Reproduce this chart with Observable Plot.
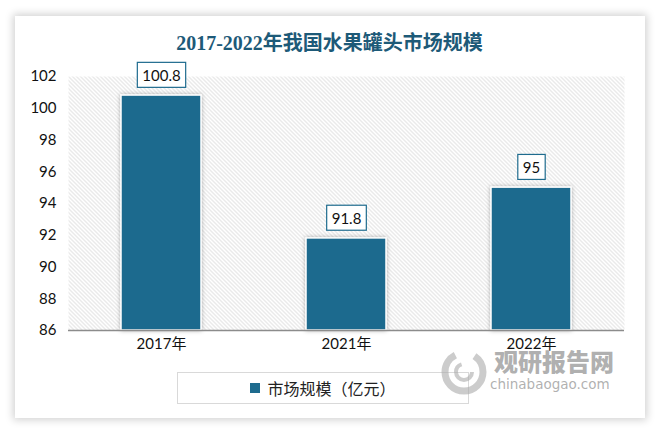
<!DOCTYPE html>
<html><head><meta charset="utf-8">
<script src="https://cdn.jsdelivr.net/npm/d3@7"></script>
<script src="https://cdn.jsdelivr.net/npm/@observablehq/plot@0.6"></script>
<style>
html,body{margin:0;padding:0;background:#fff;}
#wrap{position:relative;width:659px;height:432px;overflow:hidden;background:#fff;}
#card{position:absolute;left:15px;top:16px;width:630px;height:402px;background:#fff;box-shadow:0 0 8px 2px rgba(0,0,0,0.18);}
#title{position:absolute;left:0;top:27px;width:659px;text-align:center;font-family:"Liberation Serif","Noto Sans CJK SC",serif;font-size:20px;font-weight:bold;color:#1d5a78;}
#chart{position:absolute;left:0;top:56px;}
#legend{position:absolute;left:177px;top:372px;width:290px;height:30px;border:1px solid #d9d9d9;background:#fff;font-family:"Noto Sans CJK SC",sans-serif;font-size:16px;color:#222;display:flex;align-items:center;justify-content:center;}
#legend .sw{display:inline-block;width:10px;height:10px;background:#1e6b8e;margin-right:7px;}
#wm1{position:absolute;left:494px;top:343px;font-family:"Noto Sans CJK SC",sans-serif;font-weight:900;font-size:24px;color:rgba(150,150,150,0.75);}
#wm2{position:absolute;left:490px;top:376px;font-family:"DejaVu Sans",sans-serif;font-size:13.5px;color:rgba(150,150,150,0.75);}
#wmlogo{position:absolute;left:440px;top:348px;}
</style></head>
<body>
<div id="wrap">
  <div id="card"></div>
  <div id="title">2017-2022年我国水果罐头市场规模</div>
  <div id="chart"></div>
  <div id="legend"><span class="sw"></span><span id="legtext"></span></div>
  <svg id="wmlogo" width="50" height="50"><circle cx="24" cy="24" r="19" fill="none" stroke="rgba(170,170,170,0.6)" stroke-width="7" stroke-dasharray="80 20"/><circle cx="24" cy="24" r="8" fill="none" stroke="rgba(170,170,170,0.6)" stroke-width="4" stroke-dasharray="35 15"/></svg>
  <div id="wm1">观研报告网</div>
  <div id="wm2">chinabaogao.com</div>
</div>
<script>
const years = ["2017年", "2021年", "2022年"];
const values = [100.8, 91.8, 95];
const labels = ["100.8", "91.8", "95"];
const seriesName = "市场规模（亿元）";
const yTicks = [86, 88, 90, 92, 94, 96, 98, 100, 102];

document.getElementById("legtext").textContent = seriesName;

const data = years.map((y, i) => ({year: y, value: values[i], label: labels[i]}));
const barColor = "#1e6b8e";

const chart = Plot.plot({
  width: 659,
  height: 304,
  marginTop: 20,
  marginBottom: 30,
  marginLeft: 68,
  marginRight: 35,
  style: {fontFamily: "Lato, 'Noto Sans CJK SC', sans-serif", fontSize: "15px", color: "#111", background: "transparent"},
  x: {domain: years, paddingInner: 0.57, paddingOuter: 0.285, label: null, tickSize: 0, tickPadding: 8},
  y: {domain: [86, 102], ticks: yTicks, label: null, tickSize: 0, tickPadding: 12},
  marks: [
    Plot.frame({fill: "url(#hatch)", stroke: "none"}),
    Plot.barY(data, {x: "year", y1: 86, y2: "value", fill: barColor, stroke: "#fff", strokeWidth: 1.5, className: "bars"}),
    Plot.ruleY([86], {stroke: "#8c8c8c", strokeWidth: 1.5}),
    Plot.text(data, {x: "year", y: "value", text: "label", dy: -19.5, fill: "#111", fontSize: 15, className: "vlabels"})
  ]
});
document.getElementById("chart").appendChild(chart);

// hatch pattern + shadows
const svg = d3.select(chart);
const defs = svg.insert("defs", ":first-child");
const pat = defs.append("pattern").attr("id", "hatch").attr("patternUnits", "userSpaceOnUse").attr("width", 4).attr("height", 4);
pat.append("rect").attr("width", 4).attr("height", 4).attr("fill", "#fff");
pat.append("path").attr("d", "M-1,-1 L5,5 M-1,3 L1,5 M3,-1 L5,1").attr("stroke", "#d4d4d4").attr("stroke-width", 1);
const flt = defs.append("filter").attr("id", "shadow").attr("x", "-20%").attr("y", "-20%").attr("width", "140%").attr("height", "140%");
flt.append("feDropShadow").attr("dx", 0).attr("dy", 0).attr("stdDeviation", 2).attr("flood-color", "#000").attr("flood-opacity", 0.3);
svg.selectAll("g.bars rect").attr("filter", "url(#shadow)");

// boxes behind value labels
svg.selectAll("g.vlabels text").each(function() {
  const b = this.getBBox();
  const t = this.getAttribute("transform");
  const cy = b.y + b.height / 2;
  const r = d3.select(this.parentNode).insert("rect", () => this)
    .attr("x", b.x - 5).attr("y", cy - 12.5)
    .attr("width", b.width + 10).attr("height", 25)
    .attr("fill", "#fff").attr("stroke", barColor).attr("stroke-width", 1.2);
  if (t) r.attr("transform", t);
});
</script>
</body></html>
